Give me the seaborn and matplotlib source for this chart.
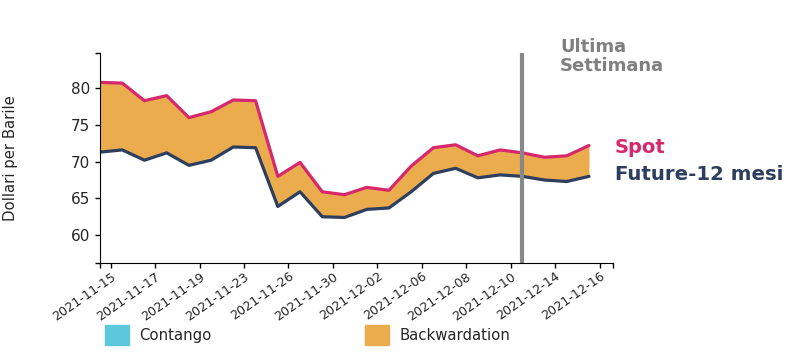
import numpy as np
import pandas as pd
import matplotlib
matplotlib.use("Agg")
import matplotlib.pyplot as plt
import seaborn as sns
from matplotlib.patches import Patch
from matplotlib.transforms import ScaledTranslation

# trading days shown on the chart
dates = ["2021-11-15", "2021-11-16", "2021-11-17", "2021-11-18", "2021-11-19",
         "2021-11-22", "2021-11-23", "2021-11-24", "2021-11-26", "2021-11-29",
         "2021-11-30", "2021-12-01", "2021-12-02", "2021-12-03", "2021-12-06",
         "2021-12-07", "2021-12-08", "2021-12-09", "2021-12-10", "2021-12-13",
         "2021-12-14", "2021-12-15", "2021-12-16"]
spot = [80.8, 80.7, 78.3, 79.0, 76.0, 76.8, 78.4, 78.3, 68.0, 69.9, 65.9, 65.5,
        66.5, 66.1, 69.4, 71.9, 72.3, 70.8, 71.6, 71.2, 70.6, 70.8, 72.2]
future = [71.3, 71.6, 70.2, 71.2, 69.5, 70.2, 72.0, 71.9, 63.9, 65.9, 62.5, 62.4,
          63.5, 63.7, 65.9, 68.4, 69.1, 67.8, 68.2, 68.0, 67.5, 67.3, 68.0]
last_week = "2021-12-13"
legend_labels = ["Contango", "Backwardation"]

c_spot = "#D7286E"
c_fut = "#2D3E5E"
c_back = "#EBAC4E"
c_cont = "#5BC8DC"

df = pd.DataFrame({"date": dates, "spot": spot, "future": future})
df["pos"] = np.arange(len(df))

sns.set_style("ticks")
plt.rcParams["font.family"] = ["DejaVu Sans"]

fig = plt.figure(figsize=(7.92, 3.56), dpi=100)
ax = fig.add_axes([100 / 792, 93 / 356, 513 / 792, 210 / 356])

s = df["spot"].to_numpy()
f = df["future"].to_numpy()
ax.fill_between(df["pos"], s, f, where=s >= f, interpolate=True, color=c_back, lw=0)
ax.fill_between(df["pos"], s, f, where=s < f, interpolate=True, color=c_cont, lw=0)
sns.lineplot(data=df, x="pos", y="spot", color=c_spot, lw=2.3, ax=ax)
sns.lineplot(data=df, x="pos", y="future", color=c_fut, lw=2.3, ax=ax)

ax.axvline(dates.index(last_week), color="#888888", lw=3)

xmax, ymin, ymax = 23.08, 56.2, 84.8
ax.set_xlim(0, xmax)
ax.set_ylim(ymin, ymax)
ax.set_xticks(np.arange(0, len(dates), 2) + 0.48)
ax.set_xticklabels(dates[::2], rotation=35, ha="right", va="top",
                   rotation_mode="anchor", fontsize=9.2)
for lab in ax.get_xticklabels():
    lab.set_transform(lab.get_transform() + ScaledTranslation(14 / 100, 4 / 100, fig.dpi_scale_trans))
ax.set_yticks([60, 65, 70, 75, 80])
ax.tick_params(axis="y", labelsize=11)
ax.tick_params(axis="x", pad=1.5)
ax.set_xticks([0, xmax], minor=True)
ax.set_yticks([ymin, ymax], minor=True)
ax.tick_params(which="both", length=3.5, color="black", width=1)
for sp in ["left", "bottom"]:
    ax.spines[sp].set_color("black")
sns.despine(ax=ax)
ax.set_xlabel("")
ax.set_ylabel("Dollari per Barile", fontsize=10.7)
ax.yaxis.set_label_coords(-82 / 513, 0.5)

fig.text(560 / 792, 1 - 38 / 356, "Ultima\nSettimana", va="top", ha="left",
         fontsize=13, fontweight="bold", color="#808080", linespacing=1.05)
fig.text(615 / 792, 1 - 147 / 356, "Spot", va="center", ha="left",
         fontsize=14, fontweight="bold", color=c_spot)
fig.text(615 / 792, 1 - 175 / 356, "Future-12 mesi", va="center", ha="left",
         fontsize=14.2, fontweight="bold", color=c_fut)

handles = [Patch(color=c_cont), Patch(color=c_back)]
fig.legend(handles, legend_labels, loc="center left",
           bbox_to_anchor=(105 / 792, 21 / 356), ncol=2, frameon=False,
           fontsize=10.7, handlelength=1.6, handleheight=1.6, handletextpad=0.7,
           columnspacing=10.35, borderpad=0, borderaxespad=0)

fig.savefig("out.png", dpi=100)
